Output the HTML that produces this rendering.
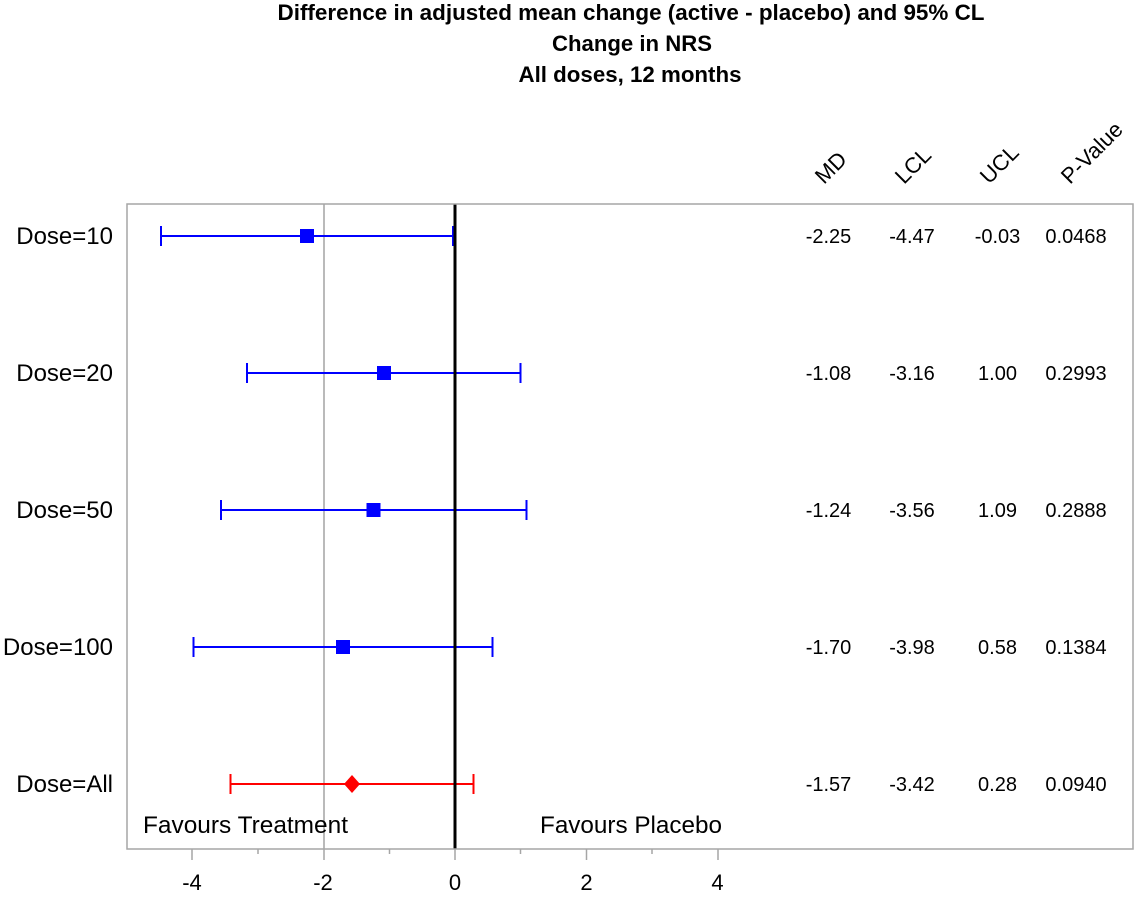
<!DOCTYPE html>
<html>
<head>
<meta charset="utf-8">
<style>
  html, body { margin: 0; padding: 0; background: #ffffff; }
  svg { display: block; }
  text { font-family: "Liberation Sans", Arial, sans-serif; fill: #000; }
</style>
</head>
<body>
<svg width="1143" height="897" viewBox="0 0 1143 897" xmlns="http://www.w3.org/2000/svg">
  <rect x="0" y="0" width="1143" height="897" fill="#ffffff"/>

  <!-- Titles -->
  <text x="631" y="20" font-size="22" font-weight="bold" text-anchor="middle" textLength="707" lengthAdjust="spacingAndGlyphs">Difference in adjusted mean change (active - placebo) and 95% CL</text>
  <text x="632" y="51" font-size="22" font-weight="bold" text-anchor="middle" textLength="160" lengthAdjust="spacingAndGlyphs">Change in NRS</text>
  <text x="630" y="82" font-size="22" font-weight="bold" text-anchor="middle" textLength="223" lengthAdjust="spacingAndGlyphs">All doses, 12 months</text>

  <!-- Column headers (rotated) -->
  <text x="0" y="0" font-size="22" transform="translate(824,185) rotate(-45)">MD</text>
  <text x="0" y="0" font-size="22" transform="translate(904,185) rotate(-45)">LCL</text>
  <text x="0" y="0" font-size="22" transform="translate(989,185) rotate(-45)">UCL</text>
  <text x="0" y="0" font-size="22" transform="translate(1070,185) rotate(-45)">P-Value</text>

  <!-- Reference line at -2 -->
  <line x1="324" y1="204" x2="324" y2="849" stroke="#a3a3a3" stroke-width="1.5"/>

  <!-- Error bars -->
  <g stroke="#0000ff" stroke-width="2" fill="none">
    <line x1="161" y1="236" x2="453" y2="236"/>
    <line x1="161" y1="226" x2="161" y2="246"/>
    <line x1="453" y1="226" x2="453" y2="246"/>
    <line x1="247" y1="373" x2="520.5" y2="373"/>
    <line x1="247" y1="363" x2="247" y2="383"/>
    <line x1="520.5" y1="363" x2="520.5" y2="383"/>
    <line x1="221" y1="510" x2="526.5" y2="510"/>
    <line x1="221" y1="500" x2="221" y2="520"/>
    <line x1="526.5" y1="500" x2="526.5" y2="520"/>
    <line x1="193.5" y1="647" x2="492.5" y2="647"/>
    <line x1="193.5" y1="637" x2="193.5" y2="657"/>
    <line x1="492.5" y1="637" x2="492.5" y2="657"/>
  </g>
  <g stroke="#ff0000" stroke-width="2" fill="none">
    <line x1="230.5" y1="784" x2="473.5" y2="784"/>
    <line x1="230.5" y1="774" x2="230.5" y2="794"/>
    <line x1="473.5" y1="774" x2="473.5" y2="794"/>
  </g>

  <!-- Zero line -->
  <line x1="455" y1="204" x2="455" y2="849" stroke="#000000" stroke-width="3"/>

  <!-- Markers -->
  <g fill="#0000ff">
    <rect x="300" y="229" width="14" height="14"/>
    <rect x="377" y="366" width="14" height="14"/>
    <rect x="366.5" y="503" width="14" height="14"/>
    <rect x="336" y="640" width="14" height="14"/>
  </g>
  <polygon points="352,775 360,784 352,793 344,784" fill="#ff0000"/>

  <!-- Frame -->
  <rect x="127" y="204" width="1006" height="645" fill="none" stroke="#a6a6a6" stroke-width="1.5"/>

  <!-- Row labels -->
  <g font-size="24" text-anchor="end">
    <text x="113" y="244">Dose=10</text>
    <text x="113" y="381">Dose=20</text>
    <text x="113" y="518">Dose=50</text>
    <text x="113" y="655">Dose=100</text>
    <text x="113" y="792">Dose=All</text>
  </g>

  <!-- Table values -->
  <g font-size="20" text-anchor="middle">
    <text x="828.5" y="243">-2.25</text>
    <text x="912" y="243">-4.47</text>
    <text x="997.5" y="243">-0.03</text>
    <text x="1076" y="243">0.0468</text>

    <text x="828.5" y="380">-1.08</text>
    <text x="912" y="380">-3.16</text>
    <text x="997.5" y="380">1.00</text>
    <text x="1076" y="380">0.2993</text>

    <text x="828.5" y="517">-1.24</text>
    <text x="912" y="517">-3.56</text>
    <text x="997.5" y="517">1.09</text>
    <text x="1076" y="517">0.2888</text>

    <text x="828.5" y="654">-1.70</text>
    <text x="912" y="654">-3.98</text>
    <text x="997.5" y="654">0.58</text>
    <text x="1076" y="654">0.1384</text>

    <text x="828.5" y="791">-1.57</text>
    <text x="912" y="791">-3.42</text>
    <text x="997.5" y="791">0.28</text>
    <text x="1076" y="791">0.0940</text>
  </g>

  <!-- Favours labels -->
  <text x="143" y="833" font-size="24" textLength="205" lengthAdjust="spacingAndGlyphs">Favours Treatment</text>
  <text x="540" y="833" font-size="24" textLength="182" lengthAdjust="spacingAndGlyphs">Favours Placebo</text>

  <!-- Axis ticks -->
  <g stroke="#a6a6a6" stroke-width="1.5">
    <line x1="192" y1="849" x2="192" y2="860"/>
    <line x1="324" y1="849" x2="324" y2="860"/>
    <line x1="455" y1="849" x2="455" y2="860"/>
    <line x1="586.5" y1="849" x2="586.5" y2="860"/>
    <line x1="718" y1="849" x2="718" y2="860"/>
    <line x1="258" y1="849" x2="258" y2="854"/>
    <line x1="389.5" y1="849" x2="389.5" y2="854"/>
    <line x1="520.5" y1="849" x2="520.5" y2="854"/>
    <line x1="652" y1="849" x2="652" y2="854"/>
  </g>
  <g font-size="22" text-anchor="middle">
    <text x="192" y="890">-4</text>
    <text x="323" y="890">-2</text>
    <text x="455" y="890">0</text>
    <text x="586.5" y="890">2</text>
    <text x="717.5" y="890">4</text>
  </g>
</svg>
</body>
</html>
